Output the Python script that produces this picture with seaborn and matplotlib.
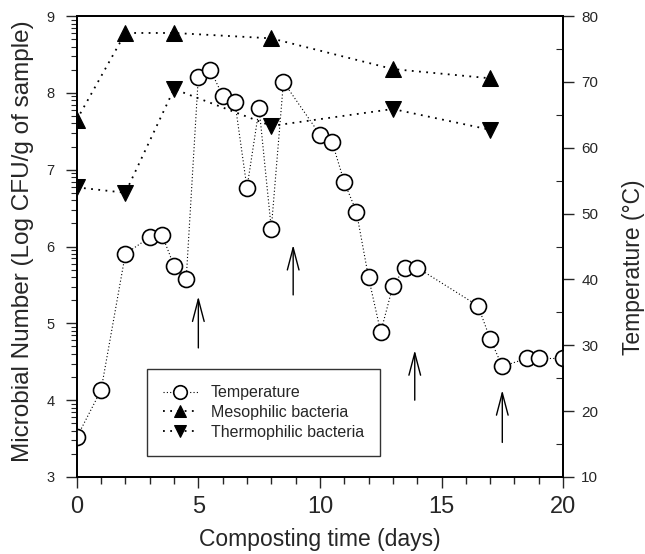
import numpy as np
import pandas as pd
import matplotlib
matplotlib.use("Agg")
import matplotlib.pyplot as plt
from matplotlib.ticker import FixedLocator, MultipleLocator
import seaborn as sns

# ---- data ----
temp_days = [0, 1, 2, 3, 3.5, 4, 4.5, 5, 5.5, 6, 6.5, 7, 7.5, 8, 8.5,
             10, 10.5, 11, 11.5, 12, 12.5, 13, 13.5, 14, 16.5, 17, 17.5, 18.5, 19, 20]
temperature = [16.0, 23.2, 43.9, 46.4, 46.8, 42.1, 40.0, 70.8, 71.8, 67.9, 67.0, 53.9, 66.0, 47.7, 70.0,
               62.0, 60.9, 54.8, 50.3, 40.3, 32.0, 39.0, 41.8, 41.8, 36.0, 31.0, 26.8, 28.0, 28.0, 28.0]

bact_days = [0, 2, 4, 8, 13, 17]
mesophilic = [7.65, 8.78, 8.78, 8.71, 8.31, 8.19]
thermophilic = [6.77, 6.70, 8.05, 7.57, 7.79, 7.52]

# turning events (arrows): x, tip, tail on left axis
arrow_x = [5.0, 8.9, 13.9, 17.5]
arrow_tip = [5.35, 6.02, 4.65, 4.13]
arrow_tail = [4.68, 5.37, 4.0, 3.45]

xticks = [0, 5, 10, 15, 20]
left_ticks = [3, 4, 5, 6, 7, 8, 9]
right_ticks = [10, 20, 30, 40, 50, 60, 70, 80]

sns.set_style("ticks")
plt.rcParams['font.family'] = ['Liberation Sans', 'DejaVu Sans']

fig = plt.figure(figsize=(6.45, 5.54), dpi=100)
ax = fig.add_axes([0.119, 0.139, 0.754, 0.832])
ax2 = ax.twinx()

df_b = pd.DataFrame({"day": bact_days, "meso": mesophilic, "thermo": thermophilic})
df_t = pd.DataFrame({"day": temp_days, "temp": temperature})

sns.lineplot(data=df_b, x="day", y="meso", ax=ax, color="black", marker="^",
             markersize=11, markeredgecolor="black", linestyle=(0, (1, 3)), linewidth=1.3,
             label="Mesophilic bacteria", legend=False)
sns.lineplot(data=df_b, x="day", y="thermo", ax=ax, color="black", marker="v",
             markersize=11, markeredgecolor="black", linestyle=(0, (1, 3)), linewidth=1.3,
             label="Thermophilic bacteria", legend=False)
sns.lineplot(data=df_t, x="day", y="temp", ax=ax2, color="black", marker="o",
             markersize=11.5, markerfacecolor="white", markeredgecolor="black",
             markeredgewidth=1.2, linestyle=(0, (1, 2)), linewidth=0.8,
             label="Temperature", legend=False)

for xa, tip, tail in zip(arrow_x, arrow_tip, arrow_tail):
    ax.annotate("", xy=(xa, tip), xytext=(xa, tail),
                arrowprops=dict(arrowstyle="->,head_length=1.6,head_width=0.42",
                                color="black", lw=1.0, shrinkA=0, shrinkB=0))

ax.set_xlim(0, 20)
ax.set_ylim(3, 9)
ax2.set_ylim(10, 80)
ax.set_xticks(xticks)
ax.xaxis.set_minor_locator(MultipleLocator(1))
ax.set_yticks(left_ticks)
minor_left = [n + np.log10(k) for n in range(3, 9) for k in range(2, 10)]
ax.yaxis.set_minor_locator(FixedLocator(minor_left))
ax2.set_yticks(right_ticks)
ax2.yaxis.set_minor_locator(MultipleLocator(5))

ax.tick_params(axis='x', which='major', labelsize=17, length=8, width=1, direction='out', pad=6)
ax.tick_params(axis='x', which='minor', length=5, width=1, direction='out')
ax.tick_params(axis='y', which='major', labelsize=10.5, length=8, width=1, direction='out', pad=8)
ax.tick_params(axis='y', which='minor', length=4, width=0.8, direction='out')
ax2.tick_params(axis='y', which='major', labelsize=11, length=8, width=1, direction='out', pad=5)
ax2.tick_params(axis='y', which='minor', length=5, width=0.8, direction='in')

for a in (ax, ax2):
    for s in a.spines.values():
        s.set_visible(True)
        s.set_linewidth(1.3)
        s.set_color("black")

ax.set_xlabel("Composting time (days)", fontsize=16.5, labelpad=7)
ax.set_ylabel("Microbial Number (Log CFU/g of sample)", fontsize=17.5)
ax2.set_ylabel("Temperature (\u00b0C)", fontsize=16.5)
ax.yaxis.set_label_coords(-0.088, 0.512)
ax2.yaxis.set_label_coords(1.121, 0.455)

h1, l1 = ax.get_legend_handles_labels()
h2, l2 = ax2.get_legend_handles_labels()
leg = ax2.legend(h2 + h1, l2 + l1, loc="upper left",
                 bbox_to_anchor=(0.144, 0.234), fontsize=11.5, frameon=True,
                 fancybox=False, edgecolor="black", handlelength=2.2, borderpad=1.0,
                 labelspacing=0.3, markerscale=0.85, borderaxespad=0)
leg.get_frame().set_linewidth(1.0)

fig.savefig("out.png", dpi=100)
